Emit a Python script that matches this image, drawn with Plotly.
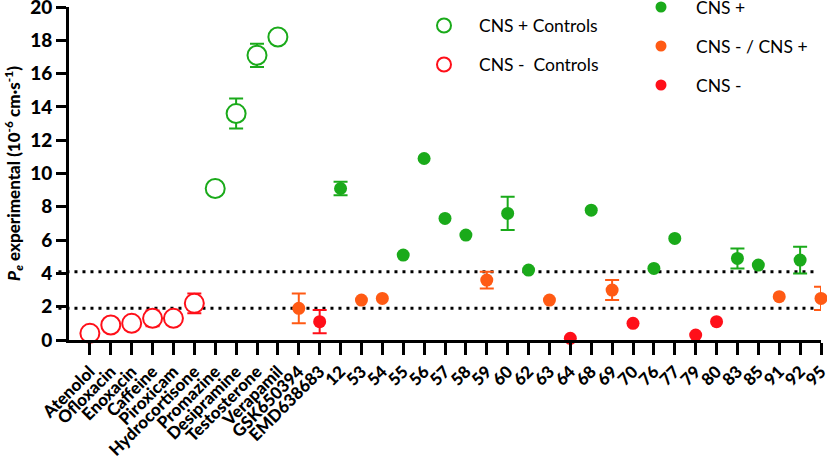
import plotly.graph_objects as go

categories = ["Atenolol", "Ofloxacin", "Enoxacin", "Caffeine", "Piroxicam", "Hydrocortisone",
              "Promazine", "Desipramine", "Testosterone", "Verapamil", "GSK650394", "EMD638683",
              "12", "53", "54", "55", "56", "57", "58", "59", "60", "62", "63", "64", "68", "69",
              "70", "76", "77", "79", "80", "83", "85", "91", "92", "95"]

# CNS + controls (open green)
ctrl_pos_x = ["Promazine", "Desipramine", "Testosterone", "Verapamil"]
ctrl_pos_y = [9.1, 13.6, 17.1, 18.2]
ctrl_pos_err = [0, 0.9, 0.7, 0]

# CNS - controls (open red)
ctrl_neg_x = ["Atenolol", "Ofloxacin", "Enoxacin", "Caffeine", "Piroxicam", "Hydrocortisone"]
ctrl_neg_y = [0.4, 0.9, 1.0, 1.3, 1.3, 2.2]
ctrl_neg_err = [0, 0, 0, 0.47, 0, 0.6]

# CNS +
cns_pos_x = ["12", "55", "56", "57", "58", "60", "62", "68", "76", "77", "83", "85", "92"]
cns_pos_y = [9.1, 5.1, 10.9, 7.3, 6.3, 7.6, 4.2, 7.8, 4.3, 6.1, 4.9, 4.5, 4.8]
cns_pos_err = [0.4, 0, 0, 0, 0, 1.0, 0, 0, 0, 0, 0.6, 0, 0.8]

# CNS - / CNS +
cns_mid_x = ["GSK650394", "53", "54", "59", "63", "69", "91", "95"]
cns_mid_y = [1.9, 2.4, 2.5, 3.6, 2.4, 3.0, 2.6, 2.5]
cns_mid_err = [0.9, 0, 0, 0.5, 0, 0.6, 0, 0.7]

# CNS -
cns_neg_x = ["EMD638683", "64", "70", "79", "80"]
cns_neg_y = [1.1, 0.1, 1.0, 0.3, 1.1]
cns_neg_err = [0.7, 0, 0, 0, 0]

thresholds = [4.1, 1.9]

GREEN = "#1AAA1A"
ORANGE = "#FF5A14"
RED = "#FF0F19"
FONT = "Lato"

# plot area in pixels (layout)
L, R, T, B = 69, 821, 7, 340
W, H = 827, 458

fig = go.Figure()
groups = [
    (ctrl_pos_x, ctrl_pos_y, ctrl_pos_err, GREEN, "CNS + Controls", True),
    (ctrl_neg_x, ctrl_neg_y, ctrl_neg_err, RED, "CNS -  Controls", True),
    (cns_pos_x, cns_pos_y, cns_pos_err, GREEN, "CNS +", False),
    (cns_mid_x, cns_mid_y, cns_mid_err, ORANGE, "CNS - / CNS +", False),
    (cns_neg_x, cns_neg_y, cns_neg_err, RED, "CNS -", False),
]
# legend key layout (pixel positions of key centres)
legend_pos = [(444, 25.5), (444, 64.5), (661, 7), (661, 46), (661, 85)]
legend_text_gap = 33

# error bars first (below markers)
for x, y, err, color, name, open_ in groups:
    ex = [a for a, e in zip(x, err) if e > 0]
    ey = [b for b, e in zip(y, err) if e > 0]
    ee = [e for e in err if e > 0]
    if ex:
        fig.add_trace(go.Scatter(
            x=ex, y=ey, mode="markers", showlegend=False, hoverinfo="skip",
            marker=dict(size=2, color="rgba(0,0,0,0)"), cliponaxis=False,
            error_y=dict(type="data", array=ee, visible=True, color=color,
                         thickness=2, width=7),
        ))

for x, y, err, color, name, open_ in groups:
    fig.add_trace(go.Scatter(
        x=x, y=y, mode="markers", name=name, showlegend=False,
        cliponaxis=False,
        marker=dict(
            symbol="circle",
            size=19 if open_ else 13,
            color="white" if open_ else color,
            line=dict(width=2, color=color) if open_ else dict(width=0),
        ),
    ))

# manual legend keys on a pixel-mapped overlay axis
for (x, y, err, color, name, open_), (px, py) in zip(groups, legend_pos):
    fig.add_trace(go.Scatter(
        x=[px], y=[py], xaxis="x2", yaxis="y2", mode="markers", showlegend=False,
        hoverinfo="skip", cliponaxis=False,
        marker=dict(symbol="circle", size=14 if open_ else 11,
                    color="white" if open_ else color,
                    line=dict(width=2, color=color) if open_ else dict(width=0)),
    ))
    fig.add_annotation(x=px + legend_text_gap, y=py, xref="x2", yref="y2", text=name,
                       showarrow=False, xanchor="left", yanchor="middle",
                       font=dict(size=17.5, family=FONT, color="black"))

for t in thresholds:
    fig.add_shape(type="line", xref="paper", yref="y", x0=-0.014, x1=0.994, y0=t, y1=t,
                  line=dict(color="black", width=3, dash="3px,5px"), layer="below")

fig.update_layout(
    width=W, height=H,
    margin=dict(l=L, r=W - R, t=T, b=H - B, autoexpand=False),
    plot_bgcolor="white", paper_bgcolor="white",
    font=dict(family=FONT, color="black"),
    showlegend=False,
    xaxis=dict(
        type="category", categoryorder="array", categoryarray=categories,
        range=[-1, len(categories) - 1], tickmode="linear", tick0=0, dtick=1,
        showline=True, linecolor="black", linewidth=3, automargin=False,
        ticks="outside", ticklen=12, tickwidth=3, tickcolor="black",
        tickangle=-45, tickfont=dict(size=17, family=FONT, weight=900, color="black"),
        ticklabeloverflow="allow",
        showgrid=False, zeroline=False,
    ),
    yaxis=dict(
        range=[0, 20], dtick=2, showline=True, linecolor="black", linewidth=3,
        automargin=False, ticklabeloverflow="allow",
        ticks="outside", ticklen=10, tickwidth=3, tickcolor="black",
        tickfont=dict(size=19, family=FONT, weight=900, color="black"),
        showgrid=False, zeroline=False,
        title=dict(text="<i>P</i><sub><i>e</i></sub> experimental (10<sup>-6</sup> cm·s<sup>-1</sup>)",
                   font=dict(size=17, family=FONT, weight=900), standoff=6),
    ),
    xaxis2=dict(overlaying="x", range=[L, R], visible=False, fixedrange=True),
    yaxis2=dict(overlaying="y", range=[B, T], visible=False, fixedrange=True),
)

fig.write_html("out.html")
